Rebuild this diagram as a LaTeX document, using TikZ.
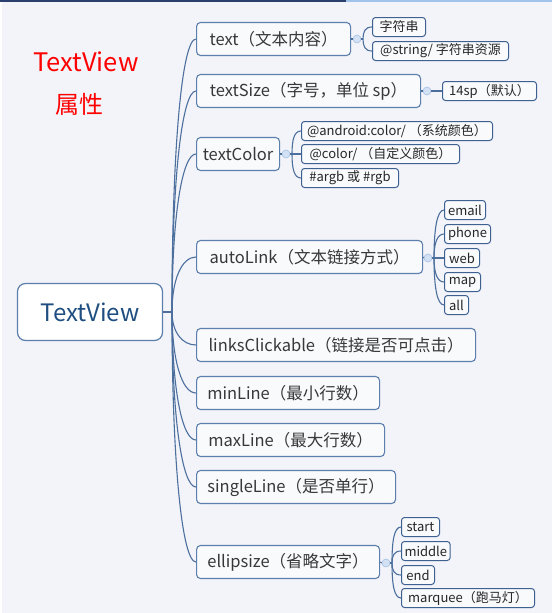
\documentclass[tikz,border=0pt]{standalone}
\usepackage{fontspec}
\setmainfont{Noto Sans CJK SC}
\usetikzlibrary{positioning,calc}
\definecolor{pagebg}{HTML}{F2F4F9}
\definecolor{edge}{HTML}{4D6F9E}
\definecolor{frame}{HTML}{5C7FAD}
\definecolor{dframe}{HTML}{3F6192}
\definecolor{knobfill}{HTML}{D3E1F4}
\definecolor{knobrim}{HTML}{A6C0E4}
\definecolor{rootblue}{HTML}{1F4E80}
\definecolor{navy}{HTML}{2B3F6E}
\definecolor{sky}{HTML}{9FC3EA}
\begin{document}
\begin{tikzpicture}[x=1pt, y=-1pt,
  root/.style={draw=frame, line width=1.2pt, rounded corners=8pt, fill=white,
    minimum width=145pt, minimum height=57pt, text=rootblue, font=\fontsize{24}{28}\selectfont},
  lvone/.style={draw=frame, line width=1.1pt, rounded corners=4pt, fill=pagebg!50!white,
    anchor=west, minimum height=33pt, inner xsep=6pt, text=black!78, font=\fontsize{16.5}{19}\selectfont},
  lvtwo/.style={draw=dframe, line width=1pt, rounded corners=3pt, fill=pagebg!50!white,
    anchor=west, minimum height=19pt, inner xsep=3pt, inner ysep=1pt, text=black!85, font=\fontsize{13}{15}\selectfont},
  knob/.style={circle, fill=knobfill, draw=knobrim, line width=0.6pt, inner sep=0pt, minimum size=8pt},
  link/.style={edge, line width=1.1pt},
  branch/.style={to path={.. controls ($(\tikztostart)!0.6!(\tikztostart |- \tikztotarget)$)
    and ($(\tikztotarget)+(-#1,0)$) .. (\tikztotarget)}},
  branch/.default=14]
% page
\fill[white] (0,0) rectangle (552,613);
\fill[pagebg] (2,2) rectangle (552,613);
\useasboundingbox (0,0) rectangle (552,613);
\draw[navy, line width=1.5pt] (0,0.75) -- (346,0.75);
\draw[sky, line width=1.5pt] (346,0.75) -- (552,0.75);
% title
\node[text=red, font=\fontsize{25.5}{30}\selectfont] (title) at (86,62) {TextView};
\node[text=red, font=\fontsize{24}{28}\selectfont] (prop) at (79,104) {属性};
% root and first level
\node[root] (root) at (90,312) {TextView};
\coordinate (hub) at (172,312);
\node[lvone, minimum width=154pt] (txt) at (196,39) {text（文本内容）};
\node[lvone, minimum width=224pt] (size) at (196,91) {textSize（字号，单位 sp）};
\node[lvone, minimum width=83pt] (color) at (196,154) {textColor};
\node[lvone, minimum width=226pt] (auto) at (196,257) {autoLink（文本链接方式）};
\node[lvone, minimum width=279pt] (click) at (196,345) {linksClickable（链接是否可点击）};
\node[lvone, minimum width=183pt] (minl) at (196,393) {minLine（最小行数）};
\node[lvone, minimum width=188pt] (maxl) at (196,440) {maxLine（最大行数）};
\node[lvone, minimum width=199pt] (single) at (196,487) {singleLine（是否单行）};
\node[lvone, minimum width=183pt] (ellip) at (196,562) {ellipsize（省略文字）};
\draw[link] (root.east) -- (hub);
\draw[link, branch] (hub) to (txt.west); \draw[link, branch] (hub) to (size.west);
\draw[link, branch] (hub) to (color.west); \draw[link, branch] (hub) to (auto.west);
\draw[link, branch] (hub) to (click.west); \draw[link, branch] (hub) to (minl.west);
\draw[link, branch] (hub) to (maxl.west); \draw[link, branch] (hub) to (single.west);
\draw[link, branch] (hub) to (ellip.west);
% knobs
\node[knob] (c1) at (357,39) {};
\node[knob] (c2) at (427,91) {};
\node[knob] (c3) at (286,154) {};
\node[knob] (c4) at (428,258) {};
\node[knob] (c5) at (386,563) {};
\coordinate (h1) at (363,39);
\coordinate (h3) at (292,154);
\coordinate (h4) at (434,258);
\coordinate (h5) at (392,563);
% second level
\node[lvtwo, minimum width=53pt] (s1) at (372,27) {字符串};
\node[lvtwo, minimum width=136pt] (s2) at (372,51) {@string/ 字符串资源};
\node[lvtwo, minimum width=94pt] (z1) at (442,91) {14sp（默认）};
\node[lvtwo, minimum width=191pt] (k1) at (301,131) {@android:color/ （系统颜色）};
\node[lvtwo, minimum width=158pt] (k2) at (301,154) {@color/ （自定义颜色）};
\node[lvtwo, minimum width=97pt] (k3) at (301,178) {\#argb 或 \#rgb};
\node[lvtwo, minimum width=41pt] (a1) at (444,210) {email};
\node[lvtwo, minimum width=46pt] (a2) at (444,234) {phone};
\node[lvtwo, minimum width=35pt] (a3) at (444,258) {web};
\node[lvtwo, minimum width=36pt] (a4) at (444,282) {map};
\node[lvtwo, minimum width=24pt] (a5) at (444,305) {all};
\node[lvtwo, minimum width=38pt] (e1) at (401,527) {start};
\node[lvtwo, minimum width=40pt] (e2) at (401,551) {middle};
\node[lvtwo, minimum width=33pt] (e3) at (401,575) {end};
\node[lvtwo, minimum width=133pt] (e4) at (401,598) {marquee（跑马灯）};
% second level links
\draw[link] (txt.east) -- (c1.west); \draw[link] (c1.east) -- (h1);
\draw[link, branch=7] (h1) to (s1.west); \draw[link, branch=7] (h1) to (s2.west);
\draw[link] (size.east) -- (c2.west); \draw[link] (c2.east) -- (z1.west);
\draw[link] (color.east) -- (c3.west); \draw[link] (c3.east) -- (h3);
\draw[link, branch=7] (h3) to (k1.west); \draw[link, branch=7] (h3) to (k2.west);
\draw[link, branch=7] (h3) to (k3.west);
\draw[link] (auto.east) -- (c4.west); \draw[link] (c4.east) -- (h4);
\draw[link, branch=7] (h4) to (a1.west); \draw[link, branch=7] (h4) to (a2.west);
\draw[link, branch=7] (h4) to (a3.west); \draw[link, branch=7] (h4) to (a4.west);
\draw[link, branch=7] (h4) to (a5.west);
\draw[link] (ellip.east) -- (c5.west); \draw[link] (c5.east) -- (h5);
\draw[link, branch=7] (h5) to (e1.west); \draw[link, branch=7] (h5) to (e2.west);
\draw[link, branch=7] (h5) to (e3.west); \draw[link, branch=7] (h5) to (e4.west);
\end{tikzpicture}
\end{document}
